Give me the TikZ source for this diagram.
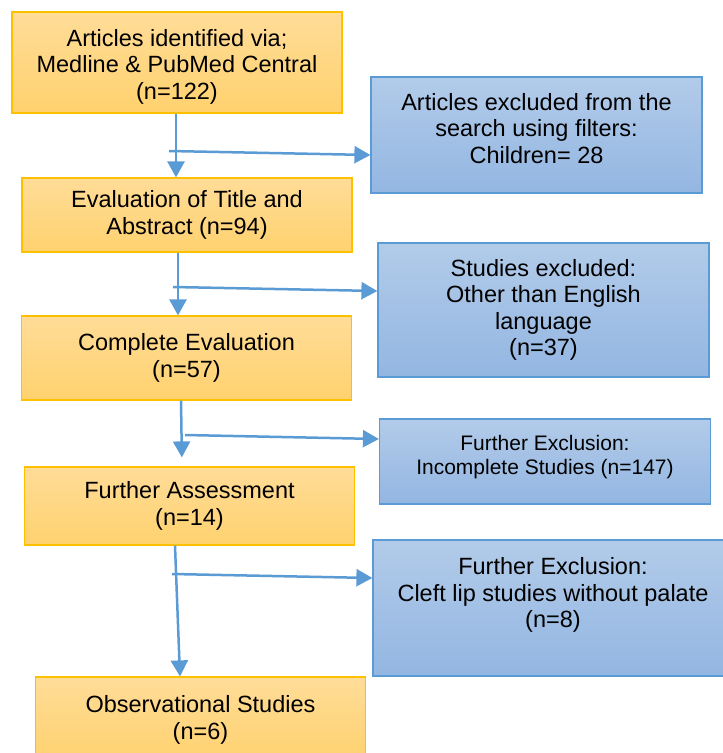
\documentclass[tikz,border=0pt]{standalone}
\usepackage{fontspec}
\setmainfont{Liberation Sans}
\usetikzlibrary{arrows.meta}

\definecolor{stageline}{HTML}{FFC000}
\definecolor{stagetop}{HTML}{FFDC98}
\definecolor{stagebot}{HTML}{FFD26E}
\definecolor{exclline}{HTML}{5B9BD5}
\definecolor{excltop}{HTML}{B2CBE9}
\definecolor{exclbot}{HTML}{93B6E2}
\definecolor{flowblue}{HTML}{5B9BD5}

\begin{document}
\begin{tikzpicture}[x=1pt, y=-1pt,
  every node/.style={align=center, font=\fontsize{23.5}{26.5}\selectfont},
  stage/.style={rectangle, draw=stageline, line width=1.2pt, top color=stagetop, bottom color=stagebot, minimum width=330pt},
  excl/.style={rectangle, draw=exclline, line width=1.2pt, top color=excltop, bottom color=exclbot, minimum width=331pt},
  flow/.style={draw=flowblue, line width=2.5pt, -{Triangle[width=17pt,length=16pt]}}]
\clip (0,0) rectangle (723,753);

\node[stage, minimum height=101pt, text height=78pt] (ident) at (177,62.5) {Articles identified via;\\Medline \& PubMed Central\\(n=122)};
\node[excl, minimum height=116pt, text depth=14pt] (filt) at (536.5,135) {Articles excluded from the\\search using filters:\\Children= 28};
\node[stage, minimum height=74pt] (title) at (187,215) {Evaluation of Title and\\Abstract (n=94)};
\node[excl, minimum height=134pt] (lang) at (543.5,310) {Studies excluded:\\Other than English\\language\\(n=37)};
\node[stage, minimum height=84pt] (compl) at (186.5,358) {Complete Evaluation\\(n=57)};
\node[excl, minimum height=85pt, text depth=13pt, font=\fontsize{21}{24}\selectfont] (incompl) at (545,461.5) {Further Exclusion:\\Incomplete Studies (n=147)};
\node[stage, minimum height=78pt] (assess) at (189.5,506) {Further Assessment\\(n=14)};
\node[excl, minimum width=360pt, minimum height=136pt, text depth=31pt] (cleft) at (553,608) {Further Exclusion:\\Cleft lip studies without palate\\(n=8)};
\node[stage, minimum height=86pt] (obs) at (200.5,720) {Observational Studies\\(n=6)};

% branch points on the main line
\coordinate (b1) at (169,151);
\coordinate (b2) at (173,287);
\coordinate (b3) at (185,435);
\coordinate (b4) at (172,574);

\draw[flow] ([xshift=-1pt]ident.south) -- ([xshift=-11pt]title.north);
\draw[flow] (b1) -- ([yshift=-20pt]filt.west);
\draw[flow] ([xshift=-9pt]title.south) -- ([xshift=-8.5pt]compl.north);
\draw[flow] (b2) -- ([yshift=19pt]lang.west);
\draw[flow, shorten >=9pt] ([xshift=-5.5pt]compl.south) -- ([xshift=-7.5pt]assess.north);
\draw[flow] (b3) -- ([yshift=22.5pt]incompl.west);
\draw[flow] ([xshift=-14.5pt]assess.south) -- ([xshift=-20.5pt]obs.north);
\draw[flow] (b4) -- ([yshift=30pt]cleft.west);
\end{tikzpicture}
\end{document}
